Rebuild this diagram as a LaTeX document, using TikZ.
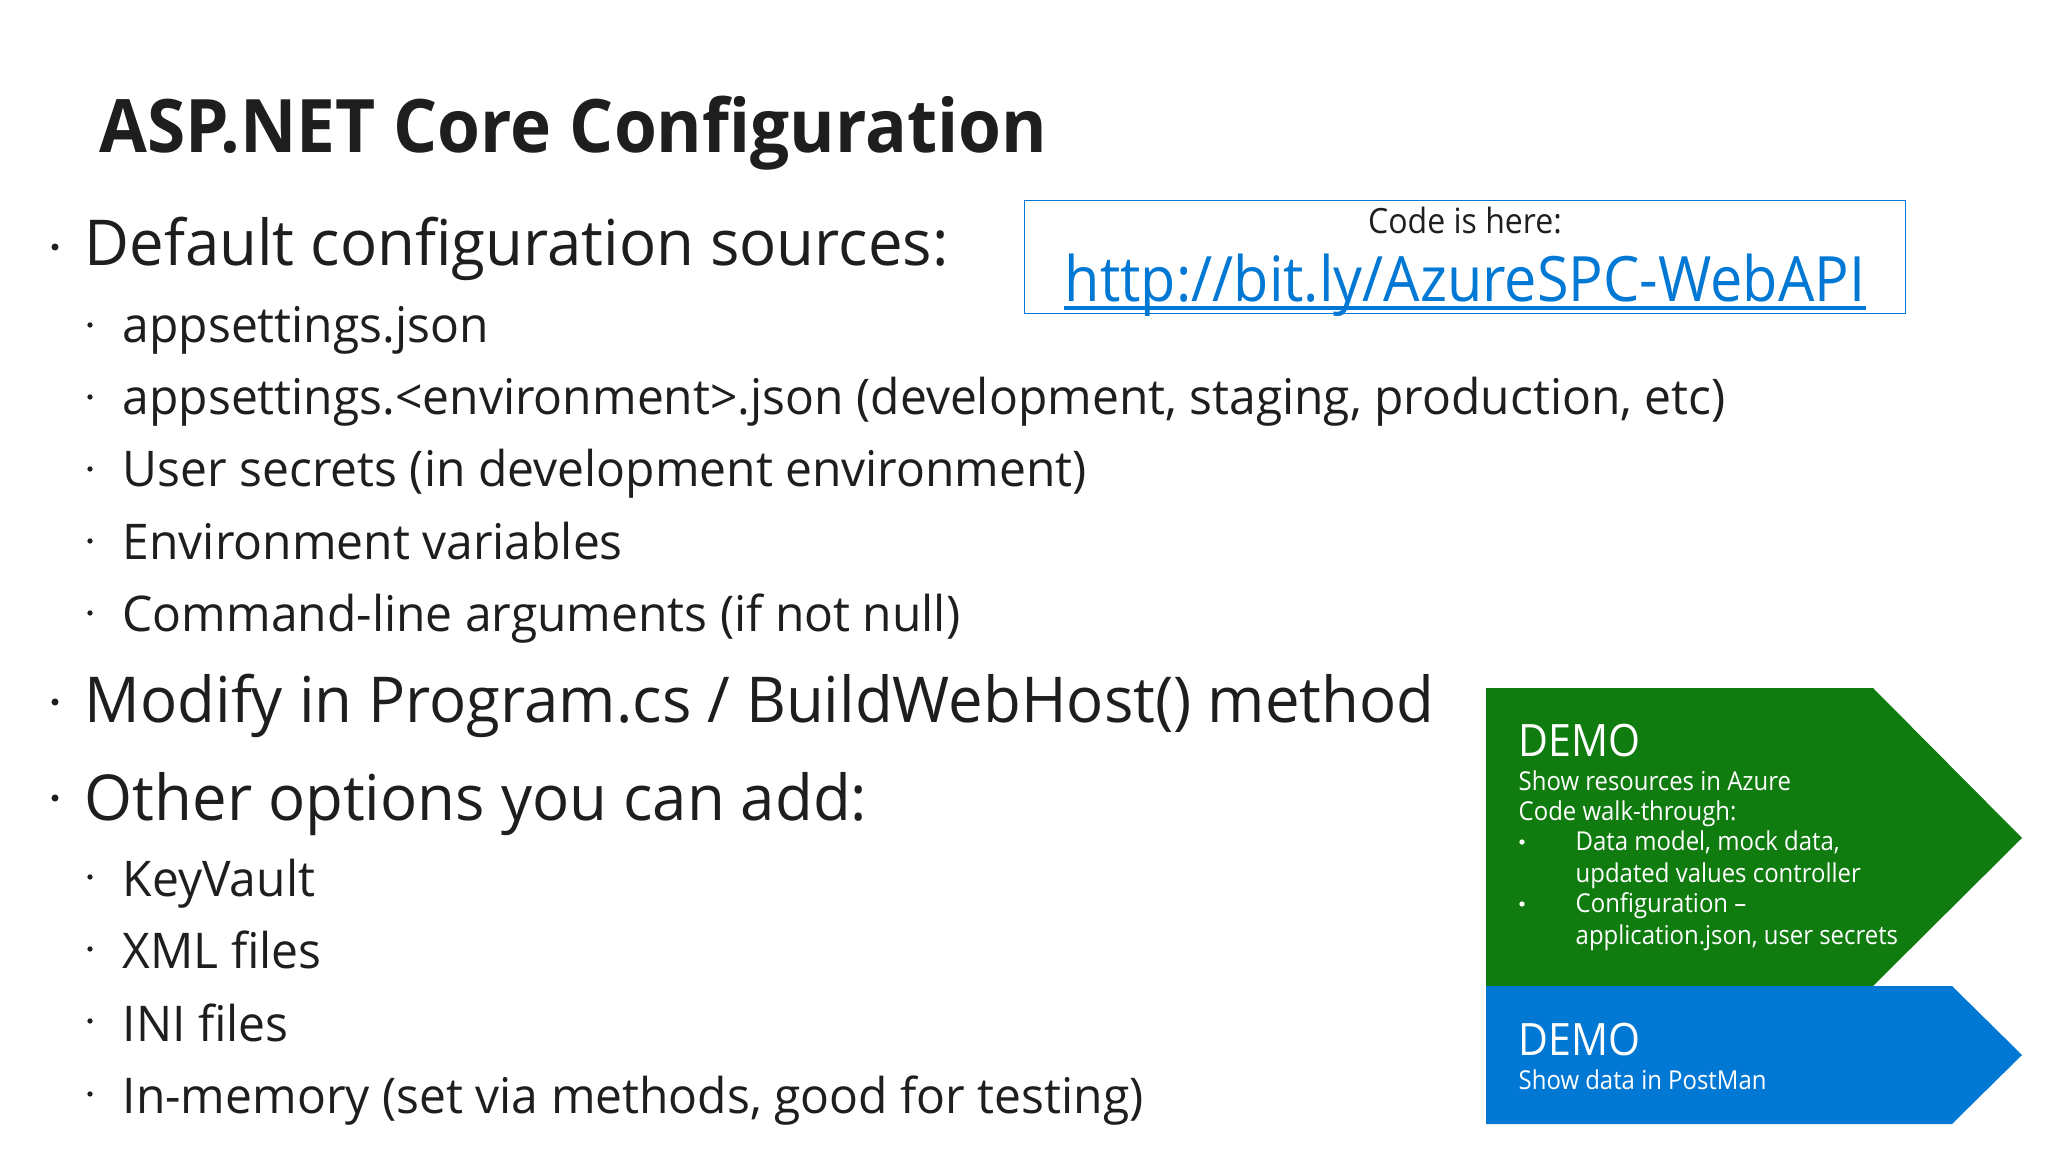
\documentclass[tikz,border=0pt]{standalone}
\usepackage{fontspec}
\setmainfont{Open Sans}[FakeStretch=0.975]
\newfontfamily\narrowfont{Open Sans}[FakeStretch=0.92]
\newfontfamily\titlefont{Open Sans}[FakeStretch=0.94]
\definecolor{linkblue}{RGB}{0,120,212}
\definecolor{demogreen}{RGB}{16,124,16}
\definecolor{inkdark}{RGB}{30,30,30}
\tikzset{
  titletext/.style={anchor=base west,inner sep=0,text=inkdark,font=\titlefont\bfseries\fontsize{21pt}{22pt}\selectfont},
  bigtext/.style={anchor=base west,inner sep=0,text=inkdark,font=\fontsize{18pt}{20pt}\selectfont},
  subtext/.style={anchor=base west,inner sep=0,text=inkdark,font=\fontsize{14pt}{16pt}\selectfont},
  demohead/.style={anchor=base west,inner sep=0,text=white,font=\narrowfont\fontsize{12.7pt}{14pt}\selectfont},
  demotext/.style={anchor=base west,inner sep=0,text=white,font=\narrowfont\fontsize{7.4pt}{9pt}\selectfont},
  bigdot/.style={fill=inkdark,circle,inner sep=0,minimum size=2pt},
  subdot/.style={fill=inkdark,circle,inner sep=0,minimum size=1.5pt},
  whitedot/.style={fill=white,circle,inner sep=0,minimum size=1.5pt}
}
\begin{document}
\begin{tikzpicture}
  \useasboundingbox (0,0) rectangle (20.48,-11.52);
  \fill[white] (0,0) rectangle (20.48,-11.52);
  \node[titletext] (title) at (0.99,-1.53) {ASP.NET Core Configuration};
  % top level items
  \node[bigtext] (defaults) at (0.84,-2.66) {Default configuration sources:};
  \node[bigtext] (modify) at (0.84,-7.23) {Modify in Program.cs / BuildWebHost() method};
  \node[bigtext] (options) at (0.84,-8.20) {Other options you can add:};
  \node[bigdot] (dotdefaults) at (0.55,-2.47) {};
  \node[bigdot] (dotmodify) at (0.55,-7.02) {};
  \node[bigdot] (dotoptions) at (0.55,-7.98) {};
  % second level items
  \node[subtext] (appsettings) at (1.22,-3.43) {appsettings.json};
  \node[subtext] (environment) at (1.22,-4.15) {appsettings.<environment>.json (development, staging, production, etc)};
  \node[subtext] (secrets) at (1.22,-4.87) {User secrets (in development environment)};
  \node[subtext] (variables) at (1.22,-5.59) {Environment variables};
  \node[subtext] (arguments) at (1.22,-6.32) {Command-line arguments (if not null)};
  \node[subtext] (keyvault) at (1.22,-8.96) {KeyVault};
  \node[subtext] (xmlfiles) at (1.22,-9.68) {XML files};
  \node[subtext] (inifiles) at (1.22,-10.41) {INI files};
  \node[subtext] (inmemory) at (1.22,-11.13) {In-memory (set via methods, good for testing)};
  \foreach \name/\ypos in {a/3.25,b/3.97,c/4.69,d/5.41,e/6.13,f/8.77,g/9.49,h/10.21,i/10.94}
    \node[subdot] (dot\name) at (0.90,-\ypos) {};
  % code link
  \node[draw=linkblue,line width=0.4pt,minimum width=8.81cm,minimum height=1.13cm,inner sep=0,anchor=north west] (codebox) at (10.24,-2.00) {};
  \node[anchor=base,inner sep=0,text=inkdark,font=\narrowfont\fontsize{9.9pt}{11pt}\selectfont] (codelabel) at (14.65,-2.34) {Code is here:};
  \node[anchor=base,inner sep=0,text=linkblue,font=\narrowfont\fontsize{17.8pt}{19pt}\selectfont] (codelink) at (14.65,-3.02) {http://bit.ly/AzureSPC-WebAPI};
  \draw[linkblue,line width=1.2pt] ([yshift=-1.7pt]codelink.base west) -- ([yshift=-1.7pt]codelink.base east);
  % demo arrows
  \fill[demogreen] (14.86,-6.88) -- (18.73,-6.88) -- (20.22,-8.38) -- (18.73,-9.86) -- (14.86,-9.86) -- cycle;
  \fill[linkblue] (14.86,-9.86) -- (19.52,-9.86) -- (20.22,-10.55) -- (19.52,-11.24) -- (14.86,-11.24) -- cycle;
  \node[demohead] (demoone) at (15.18,-7.56) {DEMO};
  \node[demotext] (azure) at (15.18,-7.90) {Show resources in Azure};
  \node[demotext] (walk) at (15.18,-8.20) {Code walk-through:};
  \node[demotext] (model) at (15.75,-8.51) {Data model, mock data,};
  \node[demotext] (values) at (15.75,-8.82) {updated values controller};
  \node[demotext] (config) at (15.75,-9.12) {Configuration –};
  \node[demotext] (json) at (15.75,-9.44) {application.json, user secrets};
  \node[whitedot] (dotmodel) at (15.22,-8.42) {};
  \node[whitedot] (dotconfig) at (15.22,-9.04) {};
  \node[demohead] (demotwo) at (15.18,-10.55) {DEMO};
  \node[demotext] (postman) at (15.18,-10.89) {Show data in PostMan};
\end{tikzpicture}
\end{document}
